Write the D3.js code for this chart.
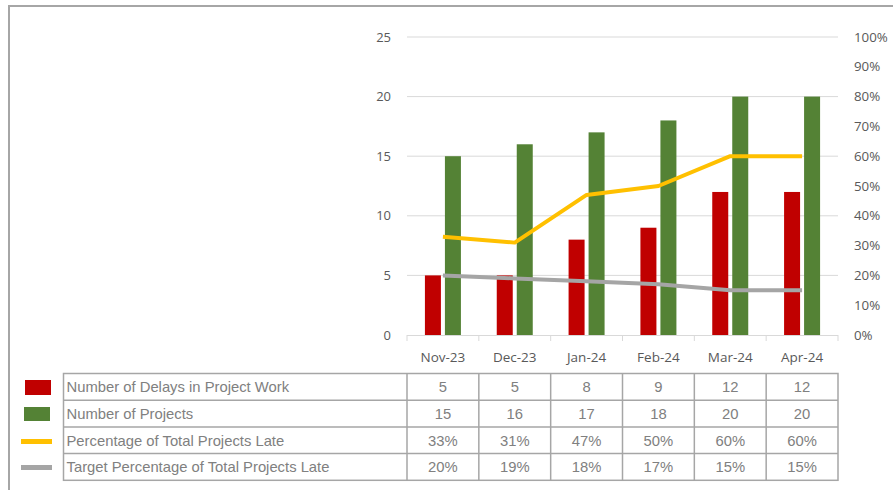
<!DOCTYPE html>
<html>
<head>
<meta charset="utf-8">
<script src="https://cdn.jsdelivr.net/npm/d3@7"></script>
<style>
  body { margin: 0; background: #fff; }
</style>
</head>
<body>
<div id="chart"></div>
<script>
var WD = 893, HT = 490

// data
var months = ["Nov-23", "Dec-23", "Jan-24", "Feb-24", "Mar-24", "Apr-24"]
var delays = [5, 5, 8, 9, 12, 12]
var projects = [15, 16, 17, 18, 20, 20]
var pctLate = [33, 31, 47, 50, 60, 60]
var pctTarget = [20, 19, 18, 17, 15, 15]
var leftTicks = [0, 5, 10, 15, 20, 25]
var rightTicks = [0, 10, 20, 30, 40, 50, 60, 70, 80, 90, 100]
var rowNames = ["Number of Delays in Project Work", "Number of Projects",
                "Percentage of Total Projects Late", "Target Percentage of Total Projects Late"]

var RED = "#C00000", GREEN = "#548235", YELLOW = "#FFC000", GREY = "#A5A5A5"
var axisFont = "'Open Sans', sans-serif"
var tableFont = "'Liberation Sans', Arial, sans-serif"

var svg = d3.select("#chart").append("svg")
    .attr("width", WD).attr("height", HT)

// outer frame
svg.append("path")
    .attr("d", "M9,490 L9,6 L893,6")
    .attr("fill", "none").attr("stroke", "#a6a6a6").attr("stroke-width", 2)

var x = d3.scaleBand().domain(months).range([407, 838])
var yL = d3.scaleLinear().domain([0, 25]).range([335, 37])
var yR = d3.scaleLinear().domain([0, 100]).range([335, 37])

// gridlines
svg.append("g").selectAll("line")
  .data(leftTicks.slice(1))
  .enter().append("line")
    .attr("x1", 407).attr("x2", 838)
    .attr("y1", function(d){ return yL(d) }).attr("y2", function(d){ return yL(d) })
    .attr("stroke", "#d9d9d9").attr("stroke-width", 1)

// bars
var barW = 16, gap = 4
svg.append("g").selectAll("rect")
  .data(delays).enter().append("rect")
    .attr("x", function(d, i){ return x(months[i]) + x.bandwidth()/2 - gap/2 - barW })
    .attr("y", function(d){ return yL(d) })
    .attr("width", barW)
    .attr("height", function(d){ return yL(0) - yL(d) })
    .attr("fill", RED)
svg.append("g").selectAll("rect")
  .data(projects).enter().append("rect")
    .attr("x", function(d, i){ return x(months[i]) + x.bandwidth()/2 + gap/2 })
    .attr("y", function(d){ return yL(d) })
    .attr("width", barW)
    .attr("height", function(d){ return yL(0) - yL(d) })
    .attr("fill", GREEN)

// x axis line + ticks
svg.append("line")
    .attr("x1", 407).attr("x2", 838).attr("y1", 335.5).attr("y2", 335.5)
    .attr("stroke", "#d9d9d9")
svg.append("g").selectAll("line")
  .data(months.concat(["end"])).enter().append("line")
    .attr("x1", function(d){ return d == "end" ? 838 : x(d) })
    .attr("x2", function(d){ return d == "end" ? 838 : x(d) })
    .attr("y1", 335).attr("y2", 341)
    .attr("stroke", "#d9d9d9")

// lines
var line = d3.line()
    .x(function(d, i){ return x(months[i]) + x.bandwidth()/2 })
    .y(function(d){ return yR(d) })
svg.append("path").datum(pctTarget)
    .attr("d", line).attr("fill", "none")
    .attr("stroke", GREY).attr("stroke-width", 4).attr("stroke-linejoin", "round")
svg.append("path").datum(pctLate)
    .attr("d", line).attr("fill", "none")
    .attr("stroke", YELLOW).attr("stroke-width", 4).attr("stroke-linejoin", "round")

// axis labels
svg.append("g").selectAll("text")
  .data(leftTicks).enter().append("text")
    .attr("x", 391).attr("y", function(d){ return yL(d) })
    .attr("dy", "0.35em").attr("text-anchor", "end")
    .attr("font-family", axisFont).attr("font-size", 13).attr("fill", "#595959")
    .text(function(d){ return d })
svg.append("g").selectAll("text")
  .data(rightTicks).enter().append("text")
    .attr("x", 854).attr("y", function(d){ return yR(d) })
    .attr("dy", "0.35em").attr("text-anchor", "start")
    .attr("font-family", axisFont).attr("font-size", 13.3).attr("fill", "#595959")
    .text(function(d){ return d + "%" })
svg.append("g").selectAll("text")
  .data(months).enter().append("text")
    .attr("x", function(d){ return x(d) + x.bandwidth()/2 })
    .attr("y", 357).attr("dy", "0.35em").attr("text-anchor", "middle")
    .attr("font-family", axisFont).attr("font-size", 13.5).attr("fill", "#595959")
    .text(function(d){ return d })

// data table
var tableTop = 373.5, rowH = 26.7, tableLeft = 63.5
var rows = [delays, projects, pctLate, pctTarget]
var tbl = svg.append("g")
tbl.append("rect")
    .attr("x", tableLeft).attr("y", tableTop)
    .attr("width", 838 - tableLeft).attr("height", rowH * 4)
    .attr("fill", "none").attr("stroke", "#a6a6a6").attr("stroke-width", 1.5)
tbl.selectAll("line.h").data([1, 2, 3]).enter().append("line")
    .attr("x1", tableLeft).attr("x2", 838)
    .attr("y1", function(d){ return tableTop + d * rowH })
    .attr("y2", function(d){ return tableTop + d * rowH })
    .attr("stroke", "#a6a6a6").attr("stroke-width", 1.5)
tbl.selectAll("line.v").data(months).enter().append("line")
    .attr("x1", function(d){ return x(d) }).attr("x2", function(d){ return x(d) })
    .attr("y1", tableTop).attr("y2", tableTop + rowH * 4)
    .attr("stroke", "#a6a6a6").attr("stroke-width", 1.5)

tbl.selectAll("text.name").data(rowNames).enter().append("text")
    .attr("x", 66.5).attr("y", function(d, i){ return tableTop + rowH * (i + 0.5) })
    .attr("dy", "0.36em")
    .attr("font-family", tableFont).attr("font-size", 14.8).attr("fill", "#808080")
    .text(function(d){ return d })

rows.forEach(function(r, ri){
  tbl.append("g").selectAll("text").data(r).enter().append("text")
      .attr("x", function(d, i){ return x(months[i]) + x.bandwidth()/2 })
      .attr("y", tableTop + rowH * (ri + 0.5))
      .attr("dy", "0.36em").attr("text-anchor", "middle")
      .attr("font-family", tableFont).attr("font-size", 14.8).attr("fill", "#808080")
      .text(function(d){ return ri >= 2 ? d + "%" : d })
})

// legend keys
var keys = svg.append("g")
keys.append("rect").attr("x", 25).attr("y", 380).attr("width", 26).attr("height", 15).attr("fill", RED)
keys.append("rect").attr("x", 24).attr("y", 407).attr("width", 26).attr("height", 14).attr("fill", GREEN)
keys.append("line").attr("x1", 21).attr("x2", 52).attr("y1", 441.5).attr("y2", 441.5)
    .attr("stroke", YELLOW).attr("stroke-width", 5)
keys.append("line").attr("x1", 21).attr("x2", 52).attr("y1", 467.5).attr("y2", 467.5)
    .attr("stroke", GREY).attr("stroke-width", 5)
</script>
</body>
</html>
